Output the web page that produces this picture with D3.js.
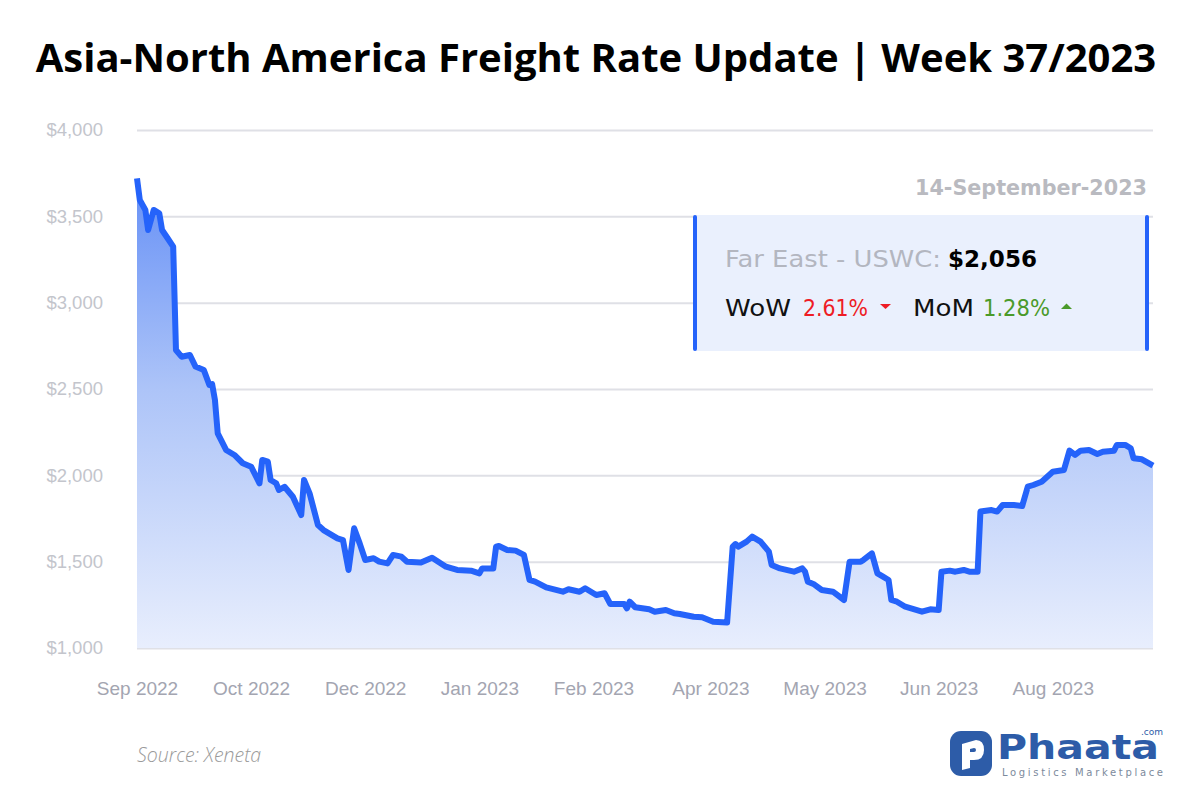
<!DOCTYPE html>
<html>
<head>
<meta charset="utf-8">
<script src="https://cdn.jsdelivr.net/npm/d3@7"></script>
<style>
  html, body { margin: 0; padding: 0; background: #ffffff; }
  svg { display: block; }
</style>
</head>
<body>
<svg id="chart" width="1200" height="800"></svg>
<script>
// ---- Data ----
const startDate = "2022-09-14";               // first observation
// days since startDate for each observation
const dayOffsets = [0,1,3,4,6,8,9,11,13,14,16,19,21,24,26,27,28,29,32,35,38,41,44,45,47,48,50,51,53,56,59,60,62,65,67,72,74,76,78,80,82,85,87,90,92,95,97,102,106,111,115,120,123,124,128,129,130,133,136,139,141,143,147,153,155,159,161,165,168,170,175,176,177,179,184,186,190,193,195,200,203,207,212,214,215,216,219,221,224,227,228,231,236,239,240,241,243,246,250,254,256,260,261,264,266,268,270,271,273,276,282,285,288,289,292,294,297,299,302,303,307,309,311,315,318,320,322,325,329,333,335,337,339,342,345,347,351,352,355,357,358,361,365];
// Far East - USWC rate, USD per FEU
const rates = [3720,3595,3537,3421,3537,3518,3421,3373,3325,2726,2687,2697,2630,2610,2523,2528,2436,2243,2147,2118,2070,2050,1954,2089,2079,1973,1954,1915,1934,1876,1770,1973,1896,1712,1683,1635,1625,1452,1693,1606,1510,1520,1500,1490,1539,1529,1500,1495,1523,1471,1452,1448,1432,1461,1461,1587,1591,1568,1564,1539,1394,1384,1351,1326,1340,1326,1346,1307,1317,1255,1255,1230,1268,1236,1224,1210,1220,1201,1197,1181,1178,1152,1147,1587,1602,1587,1616,1645,1616,1558,1481,1461,1442,1461,1442,1384,1371,1336,1326,1278,1500,1500,1510,1548,1432,1413,1394,1278,1268,1239,1210,1224,1220,1442,1448,1442,1452,1442,1442,1790,1799,1790,1828,1828,1822,1934,1944,1963,2021,2031,2143,2118,2143,2147,2124,2137,2143,2176,2176,2157,2099,2093,2056];
const yTicks = [1000,1500,2000,2500,3000,3500,4000];
const xTickDays = [0,41,82,123,164,206,247,288,329];
const xTickLabels = ["Sep 2022","Oct 2022","Dec 2022","Jan 2023","Feb 2023","Apr 2023","May 2023","Jun 2023","Aug 2023"];
const titleText = "Asia-North America Freight Rate Update | Week 37/2023";
const dateLabel = "14-September-2023";
const routeLabel = "Far East - USWC:";
const latestRate = "$2,056";
const wowLabel = "WoW", wowValue = "2.61%";
const momLabel = "MoM", momValue = "1.28%";
const sourceText = "Source: Xeneta";

// ---- Build ----
const parse = d3.utcParse("%Y-%m-%d");
const t0 = parse(startDate);
const data = dayOffsets.map((d, i) => ({ date: d3.utcDay.offset(t0, d), value: rates[i] }));

const svg = d3.select("#chart");
const x = d3.scaleUtc().domain([t0, d3.utcDay.offset(t0, 365)]).range([137, 1153]);
const y = d3.scaleLinear().domain([1000, 4000]).range([648, 130]);

// Title
svg.append("text")
  .attr("x", 596).attr("y", 72)
  .attr("text-anchor", "middle")
  .attr("font-family", "'Open Sans', sans-serif")
  .attr("font-weight", 700)
  .attr("font-size", 40)
  .attr("fill", "#000")
  .text(titleText);

// Gridlines + y labels
const yAxis = d3.axisLeft(y).tickValues(yTicks)
  .tickSize(-(1153 - 137))
  .tickPadding(34)
  .tickFormat(d => "$" + d3.format(",")(d));
const gy = svg.append("g").attr("transform", "translate(137,0)").call(yAxis);
gy.select(".domain").remove();
gy.selectAll(".tick line").attr("stroke", "#dfe0e6").attr("stroke-width", 2);
gy.selectAll(".tick text")
  .attr("font-family", "'Liberation Sans', Arial, sans-serif")
  .attr("font-size", 18.5).attr("fill", "#c3c5cc");

// x labels
const xAxis = d3.axisBottom(x)
  .tickValues(xTickDays.map(d => d3.utcDay.offset(t0, d)))
  .tickSize(0).tickPadding(0)
  .tickFormat((d, i) => xTickLabels[i]);
const gx = svg.append("g").attr("transform", "translate(0,681)").call(xAxis);
gx.select(".domain").remove();
gx.selectAll(".tick text")
  .attr("font-family", "'Liberation Sans', Arial, sans-serif")
  .attr("font-size", 19).attr("fill", "#a3a5b1")
  .attr("dy", "0.71em");

// Gradient
const defs = svg.append("defs");
const grad = defs.append("linearGradient").attr("id", "areaGrad")
  .attr("gradientUnits", "userSpaceOnUse")
  .attr("x1", 0).attr("x2", 0).attr("y1", y(3720)).attr("y2", y(1000));
grad.append("stop").attr("offset", "0%").attr("stop-color", "#6690f6");
grad.append("stop").attr("offset", "45%").attr("stop-color", "#adc4f8");
grad.append("stop").attr("offset", "100%").attr("stop-color", "#e8eefd");

const area = d3.area().x(d => x(d.date)).y0(y(1000)).y1(d => y(d.value));
svg.append("path").datum(data).attr("d", area).attr("fill", "url(#areaGrad)");

const line = d3.line().x(d => x(d.date)).y(d => y(d.value));
svg.append("path").datum(data).attr("d", line)
  .attr("fill", "none").attr("stroke", "#2563fa").attr("stroke-width", 6)
  .attr("stroke-linejoin", "round").attr("stroke-linecap", "butt");

// Annotation
const annFont = "'DejaVu Sans', 'Noto Sans', sans-serif";
svg.append("text")
  .attr("x", 915).attr("y", 195)
  .attr("font-family", annFont).attr("font-weight", 700)
  .attr("font-size", 20.5).attr("fill", "#b9bac0")
  .attr("textLength", 232).attr("lengthAdjust", "spacingAndGlyphs")
  .text(dateLabel);

const box = svg.append("g");
box.append("rect").attr("x", 693).attr("y", 215).attr("width", 456).attr("height", 136)
  .attr("rx", 3).attr("fill", "#eaf0fd");
box.append("rect").attr("x", 693).attr("y", 215).attr("width", 4).attr("height", 136)
  .attr("rx", 2).attr("fill", "#2563fa");
box.append("rect").attr("x", 1145).attr("y", 215).attr("width", 4).attr("height", 136)
  .attr("rx", 2).attr("fill", "#2563fa");

function seg(txt, x0, x1, yb, fill, weight) {
  box.append("text").attr("x", x0).attr("y", yb)
    .attr("font-family", annFont).attr("font-size", 23.5)
    .attr("font-weight", weight || 400).attr("fill", fill)
    .attr("textLength", x1 - x0).attr("lengthAdjust", "spacingAndGlyphs")
    .text(txt);
}
seg(routeLabel, 725, 941, 267, "#b3b6c0");
seg(latestRate, 948, 1037, 267, "#000", 700);
seg(wowLabel, 725, 791, 316, "#111");
seg(wowValue, 803, 868, 316, "#ee1c25");
seg(momLabel, 913, 974, 316, "#111");
seg(momValue, 983, 1050, 316, "#4a9a2a");

box.append("path").attr("d", "M880,304 L891,304 L885.5,309 Z").attr("fill", "#ee1c25");
box.append("path").attr("d", "M1061,309 L1072,309 L1066.5,303.5 Z").attr("fill", "#4a9a2a");

// Source
svg.append("text").attr("x", 137).attr("y", 762)
  .attr("font-family", "'Open Sans', sans-serif").attr("font-style", "italic")
  .attr("font-weight", 300).attr("font-size", 19.5).attr("fill", "#9a9a9a")
  .text(sourceText);

// Logo
const logo = svg.append("g");
logo.append("rect").attr("x", 950).attr("y", 731).attr("width", 42).attr("height", 45)
  .attr("rx", 11).attr("fill", "#2d5ca8");
logo.append("path")
  .attr("d", "M962,744 L976,740 Q984,740 984,750 Q984,760 974,760 L970,760 L970,752 L974,752 Q976,752 976,750 Q976,748 974,748 L970,749 L970,768 L962,770 Z")
  .attr("fill", "#fff");
logo.append("text").attr("x", 997).attr("y", 759)
  .attr("font-family", "'DejaVu Sans', sans-serif").attr("font-weight", 700)
  .attr("font-size", 34).attr("fill", "#2d5ca8")
  .attr("textLength", 162).attr("lengthAdjust", "spacingAndGlyphs").text("Phaata");
logo.append("text").attr("x", 1163).attr("y", 735).attr("text-anchor", "end")
  .attr("font-family", "'DejaVu Sans', sans-serif")
  .attr("font-size", 9).attr("fill", "#2d5ca8").text(".com");
logo.append("text").attr("x", 1002).attr("y", 776)
  .attr("font-family", "'DejaVu Sans', sans-serif")
  .attr("font-size", 10).attr("fill", "#7c8a9c")
  .attr("textLength", 161).attr("lengthAdjust", "spacing").text("Logistics Marketplace");
</script>
</body>
</html>
